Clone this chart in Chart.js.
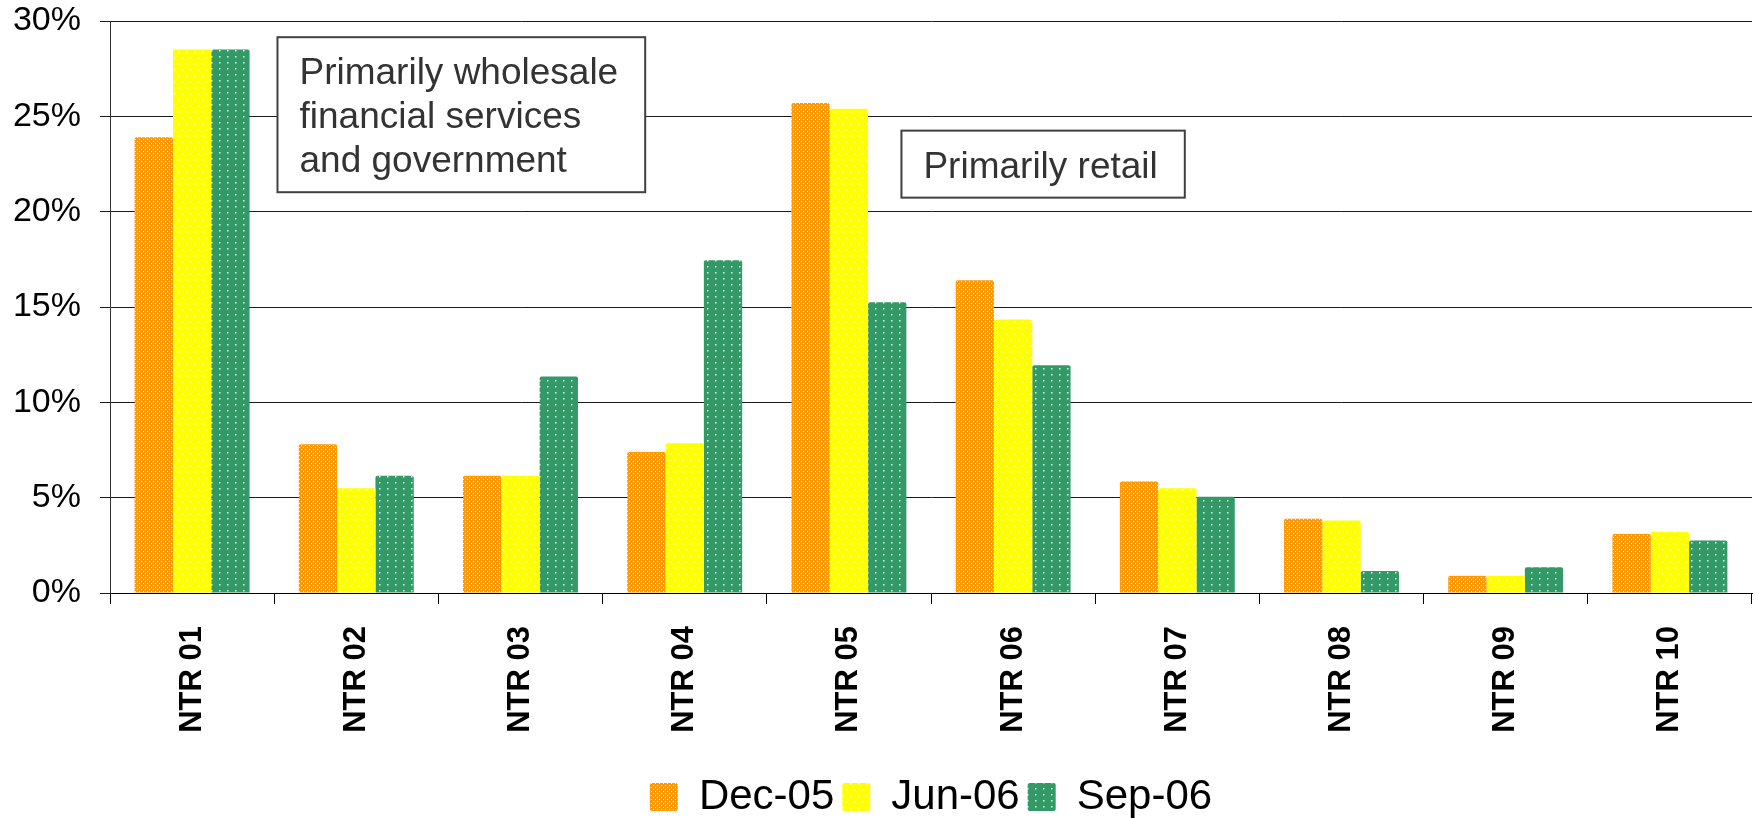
<!DOCTYPE html>
<html>
<head>
<meta charset="utf-8">
<script src="https://cdn.jsdelivr.net/npm/chart.js@4.4.1/dist/chart.umd.min.js"></script>
<style>
  html, body { margin: 0; padding: 0; background: #ffffff; }
  #wrap { width: 1755px; height: 818px; position: relative; }
</style>
</head>
<body>
<div id="wrap"><canvas id="chart" width="1755" height="818"></canvas></div>
<script>
// Share of total by region, three reporting dates (percent)
const categories = ['NTR 01', 'NTR 02', 'NTR 03', 'NTR 04', 'NTR 05', 'NTR 06', 'NTR 07', 'NTR 08', 'NTR 09', 'NTR 10'];
const dec05 = [23.9, 7.8, 6.15, 7.4, 25.7, 16.4, 5.85, 3.9, 0.9, 3.1];
const jun06 = [28.5, 5.5, 6.15, 7.85, 25.4, 14.35, 5.5, 3.8, 0.9, 3.2];
const sep06 = [28.5, 6.15, 11.35, 17.45, 15.25, 11.95, 5.05, 1.15, 1.35, 2.75];
const seriesNames = ['Dec-05', 'Jun-06', 'Sep-06'];
const yMax = 30;
const yStep = 5;

// Callout boxes: text lines plus the category position / value at their top-left corner
const noteLines = [
  ['Primarily wholesale', 'financial services', 'and government'],
  ['Primarily retail']
];
const noteAnchorX = [0.52, 4.32];
const noteAnchorY = [29.15, 24.25];

// Dotted fills for the bars
function dotPattern(base, w, h, dots, size) {
  const c = document.createElement('canvas');
  c.width = w; c.height = h;
  const g = c.getContext('2d');
  g.fillStyle = base;
  g.fillRect(0, 0, w, h);
  g.fillStyle = 'rgba(255,255,255,0.9)';
  dots.forEach(([x, y]) => g.fillRect(x, y, size, size));
  return g.createPattern(c, 'repeat');
}
const fillOrange = dotPattern('#FF9900', 4, 4, [[1, 1], [3, 3]], 1);
const fillYellow = dotPattern('#FFFF00', 8, 12, [[2, 3], [6, 9]], 1.5);
const fillGreen = dotPattern('#339966', 8, 6, [[3, 2]], 1.5);

const FONT = '"Liberation Sans", Arial, Helvetica, sans-serif';

const calloutPlugin = {
  id: 'callouts',
  afterDatasetsDraw(chart) {
    const { ctx, scales: { x, y } } = chart;
    const fontSize = 37, lineH = 44, padL = 22, padR = 27;
    ctx.save();
    ctx.font = fontSize + 'px ' + FONT;
    noteLines.forEach((lines, i) => {
      const left = x.getPixelForValue(noteAnchorX[i]);
      const top = y.getPixelForValue(noteAnchorY[i]);
      const tw = Math.max(...lines.map(l => ctx.measureText(l).width));
      const w = tw + padL + padR;
      const h = lines.length * lineH + 23;
      ctx.fillStyle = '#ffffff';
      ctx.fillRect(left, top, w, h);
      ctx.strokeStyle = '#404040';
      ctx.lineWidth = 2;
      ctx.strokeRect(left, top, w, h);
      ctx.fillStyle = '#333333';
      ctx.textAlign = 'left';
      ctx.textBaseline = 'alphabetic';
      lines.forEach((l, k) => ctx.fillText(l, left + padL, top + 47 + k * lineH));
    });
    ctx.restore();
  }
};

const barStyle = { borderWidth: 0, borderRadius: 2, borderSkipped: 'start' };

new Chart(document.getElementById('chart'), {
  type: 'bar',
  data: {
    labels: categories,
    datasets: [
      Object.assign({ label: seriesNames[0], data: dec05, backgroundColor: fillOrange }, barStyle),
      Object.assign({ label: seriesNames[1], data: jun06, backgroundColor: fillYellow }, barStyle),
      Object.assign({ label: seriesNames[2], data: sep06, backgroundColor: fillGreen }, barStyle)
    ]
  },
  options: {
    responsive: false,
    animation: false,
    events: [],
    layout: { padding: { top: 21, right: 3, left: 0, bottom: 0 } },
    datasets: { bar: { categoryPercentage: 0.7, barPercentage: 1.0 } },
    scales: {
      x: {
        grid: { display: true, drawOnChartArea: false, drawTicks: true, tickLength: 11, color: '#000000', lineWidth: 1 },
        border: { display: true, color: '#000000', width: 1 },
        ticks: {
          autoSkip: false, minRotation: 90, maxRotation: 90, padding: 22,
          color: '#000000', font: { family: FONT, size: 31, weight: 'bold' }
        },
        afterFit(scale) { scale.height = 175; }
      },
      y: {
        min: 0, max: yMax,
        grid: { color: '#1a1a1a', lineWidth: 1, drawTicks: true, tickLength: 10 },
        border: { display: true, color: '#333333', width: 1 },
        ticks: {
          stepSize: yStep, padding: 19, color: '#000000',
          font: { family: FONT, size: 34 },
          callback: v => v + '%'
        },
        afterFit(scale) {
          scale.width = 110;
          scale.paddingTop = 0;
          scale.paddingBottom = 0;
        }
      }
    },
    plugins: {
      tooltip: { enabled: false },
      legend: {
        position: 'bottom',
        fullSize: false,
        maxHeight: 50,
        labels: {
          boxWidth: 28, boxHeight: 28, padding: 8, color: '#000000',
          useBorderRadius: true, borderRadius: 2,
          font: { family: FONT, size: 42 }
        }
      }
    }
  },
  plugins: [calloutPlugin]
});
</script>
</body>
</html>
